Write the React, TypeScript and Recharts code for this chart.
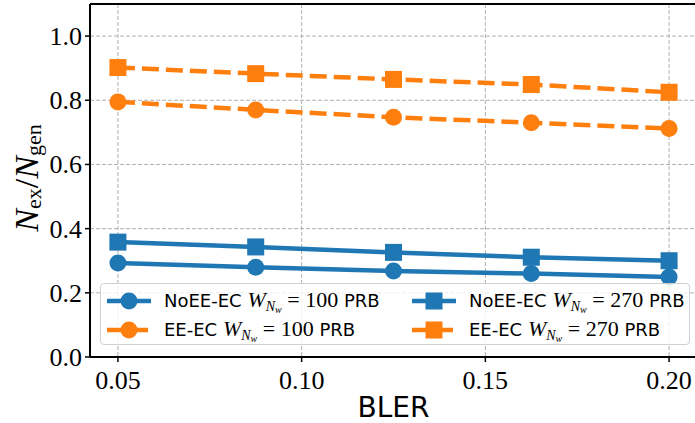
import React from 'react';
import { LineChart, Line, XAxis, YAxis, CartesianGrid, Legend, ReferenceLine, Label } from 'recharts';

const bler = [0.05, 0.0875, 0.125, 0.1625, 0.2];
const noEE100 = [0.293, 0.28, 0.268, 0.26, 0.249];
const noEE270 = [0.358, 0.343, 0.326, 0.311, 0.3];
const ee100 = [0.795, 0.77, 0.747, 0.73, 0.712];
const ee270 = [0.902, 0.883, 0.865, 0.849, 0.825];

const xTicks = [0.05, 0.1, 0.15, 0.2];
const yTicks = [0, 0.2, 0.4, 0.6, 0.8, 1.0];

const BLUE = '#1f77b4';
const ORANGE = '#ff7f0e';
const SERIF = '"Liberation Serif", "DejaVu Serif", serif';
const SANS = '"DejaVu Sans", sans-serif';

const data = bler.map((x, i) => ({
  x,
  noEE100: noEE100[i],
  noEE270: noEE270[i],
  ee100: ee100[i],
  ee270: ee270[i],
}));

const legendItems = [
  { name: 'NoEE-EC', w: '100', color: BLUE, dashed: false, square: false },
  { name: 'NoEE-EC', w: '270', color: BLUE, dashed: false, square: true },
  { name: 'EE-EC', w: '100', color: ORANGE, dashed: true, square: false },
  { name: 'EE-EC', w: '270', color: ORANGE, dashed: true, square: true },
];

const squareDot = (color: string) => (props: any) => {
  const { cx, cy, index } = props;
  return <rect key={`sq-${index}`} x={cx - 8.5} y={cy - 8.5} width={17} height={17} fill={color} />;
};

const circleDot = (color: string) => (props: any) => {
  const { cx, cy, index } = props;
  return <circle key={`ci-${index}`} cx={cx} cy={cy} r={8.5} fill={color} />;
};

const renderXTick = (props: any) => {
  const { x, y, payload, index } = props;
  return (
    <g key={`xt-${index}`}>
      <text x={x} y={y + 20} textAnchor="middle" style={{ fontFamily: SERIF, fontSize: 26, fill: '#000' }}>
        {Number(payload.value).toFixed(2)}
      </text>
    </g>
  );
};

const renderYTick = (props: any) => {
  const { x, y, payload, index } = props;
  return (
    <g key={`yt-${index}`}>
      <text x={x} y={y + 9} textAnchor="end" style={{ fontFamily: SERIF, fontSize: 26, fill: '#000' }}>
        {Number(payload.value).toFixed(1)}
      </text>
    </g>
  );
};

function LegendIcon({ color, dashed, square }: { color: string; dashed: boolean; square: boolean }) {
  return (
    <svg width={44} height={20} style={{ display: 'block' }}>
      <line x1={0} y1={10} x2={44} y2={10} stroke={color} strokeWidth={4.5} strokeDasharray={dashed ? '17 7' : undefined} />
      {square ? <rect x={13.5} y={1.5} width={17} height={17} fill={color} /> : <circle cx={22} cy={10} r={8.5} fill={color} />}
    </svg>
  );
}

function LegendBox() {
  return (
    <div
      style={{
        boxSizing: 'border-box',
        width: 590,
        height: 62,
        background: 'rgba(255,255,255,0.8)',
        border: '1px solid #d0d0d0',
        borderRadius: 4,
        display: 'grid',
        gridTemplateColumns: '305px 280px',
        gridTemplateRows: '29px 29px',
        padding: '2px 0 0 6px',
        alignItems: 'center',
      }}
    >
      {legendItems.map((it, i) => (
        <div key={i} style={{ display: 'flex', alignItems: 'center', whiteSpace: 'nowrap' }}>
          <LegendIcon color={it.color} dashed={it.dashed} square={it.square} />
          <span style={{ marginLeft: 13, fontFamily: SANS, fontSize: 18, color: '#000' }}>
            {it.name}{' '}
            <span style={{ fontFamily: SERIF, fontSize: 22 }}>
              <i>W</i>
              <sub style={{ fontSize: 14, verticalAlign: '-4px' }}>
                <i>N</i>
                <sub style={{ fontSize: 10, verticalAlign: '-2px' }}>
                  <i>w</i>
                </sub>
              </sub>
              {' = '}
              {it.w}
            </span>{' '}
            PRB
          </span>
        </div>
      ))}
    </div>
  );
}

const YLabel = () => {
  const cy = 178;
  const cx = 26;
  return (
    <text
      transform={`translate(${cx},${cy}) rotate(-90)`}
      textAnchor="middle"
      dominantBaseline="central"
      fontFamily={SERIF}
      fontSize={34}
      fill="#000"
    >
      <tspan fontStyle="italic">N</tspan>
      <tspan fontSize={22} dy={7}>ex</tspan>
      <tspan dy={-7}>/</tspan>
      <tspan fontStyle="italic">N</tspan>
      <tspan fontSize={22} dy={7}>gen</tspan>
    </text>
  );
};

export default function App() {
  return (
    <div style={{ position: 'absolute', left: 0, top: 0, width: 695, height: 423, overflow: 'hidden', background: '#fff' }}>
      <LineChart width={698} height={423} data={data} margin={{ top: 4, right: 1, left: 0, bottom: 0 }}>
        <CartesianGrid stroke="#b0b0b0" strokeDasharray="4 2" strokeWidth={1} />
        <XAxis
          dataKey="x"
          type="number"
          domain={[0.0424, 0.2076]}
          ticks={xTicks}
          height={66}
          axisLine={{ stroke: '#000', strokeWidth: 2 }}
          tickLine={{ stroke: '#000', strokeWidth: 1.5 }}
          tickSize={5}
          tickMargin={7}
          tick={renderXTick}
          allowDataOverflow
        >
          <Label value="BLER" position="insideBottom" offset={6} style={{ fontFamily: SANS, fontSize: 28, fill: '#000' }} />
        </XAxis>
        <YAxis
          type="number"
          domain={[0, 1.1]}
          ticks={yTicks}
          width={90}
          axisLine={{ stroke: '#000', strokeWidth: 2 }}
          tickLine={{ stroke: '#000', strokeWidth: 1.5 }}
          tickSize={5}
          tickMargin={3}
          tick={renderYTick}
          allowDataOverflow
        >
          <Label content={<YLabel />} />
        </YAxis>
        <ReferenceLine y={1.1} stroke="#000" strokeWidth={2} />
        <ReferenceLine x={0.2076} stroke="#000" strokeWidth={2} />
        <Line dataKey="noEE100" stroke={BLUE} strokeWidth={4.5} dot={circleDot(BLUE)} isAnimationActive={false} />
        <Line dataKey="ee100" stroke={ORANGE} strokeWidth={4.5} strokeDasharray="17 7" dot={circleDot(ORANGE)} isAnimationActive={false} />
        <Line dataKey="noEE270" stroke={BLUE} strokeWidth={4.5} dot={squareDot(BLUE)} isAnimationActive={false} />
        <Line dataKey="ee270" stroke={ORANGE} strokeWidth={4.5} strokeDasharray="17 7" dot={squareDot(ORANGE)} isAnimationActive={false} />
        <Legend
          layout="horizontal"
          verticalAlign="middle"
          align="center"
          content={() => <LegendBox />}
          wrapperStyle={{ position: 'absolute', left: 100, top: 283, width: 590, height: 62 }}
        />
      </LineChart>
    </div>
  );
}
